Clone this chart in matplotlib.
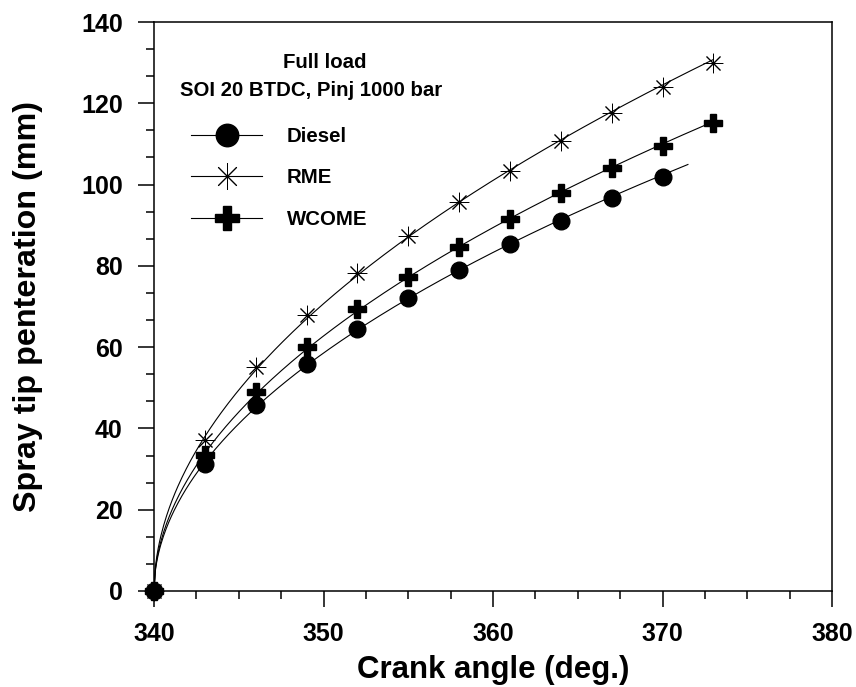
import numpy as np
import matplotlib
matplotlib.use("Agg")
import matplotlib.pyplot as plt
from matplotlib.ticker import MultipleLocator

plt.rcParams['font.family'] = ['Liberation Sans', 'DejaVu Sans']
plt.rcParams['font.weight'] = 'bold'

# crank angle (deg.) of the measured points
crank = [340, 343, 346, 349, 352, 355, 358, 361, 364, 367, 370, 373]
diesel = [0, 31.3, 45.7, 55.9, 64.4, 72.2, 79.0, 85.3, 91.1, 96.7, 101.9]
rme = [0, 37.2, 55.2, 67.8, 78.2, 87.4, 95.7, 103.4, 110.8, 117.5, 123.9, 130.0]
wcome = [0, 33.4, 48.9, 60.0, 69.3, 77.3, 84.7, 91.5, 97.9, 104.1, 109.6, 115.1]
fit_end = {"Diesel": 371.5, "RME": 373, "WCOME": 373}

series = [
    ("Diesel", diesel, dict(marker="o", ms=12, mfc="k", mec="k")),
    ("RME", rme, dict(marker=(8, 2, 0), ms=14, mfc="none", mec="k", mew=0.7)),
    ("WCOME", wcome, dict(marker="P", ms=13, mfc="k", mec="k")),
]

fig = plt.figure(figsize=(8.56, 6.87), dpi=100)
ax = fig.add_axes([154/856, 1-591/687, (832-154)/856, (591-22)/687])

x0 = crank[0]
for name, vals, mk in series:
    x = np.array(crank[:len(vals)], float)
    y = np.array(vals, float)
    # power-law regression y = a*(x-x0)^b, like the original fit lines
    t = x[1:] - x0
    b, loga = np.polyfit(np.log(t), np.log(y[1:]), 1)
    tt = np.linspace(0, fit_end[name] - x0, 400)
    ax.plot(tt + x0, np.exp(loga) * tt**b, color="k", lw=0.8, zorder=2)
    ax.plot(x, y, ls="none", zorder=3, clip_on=False, **mk)
    ax.plot([], [], color="k", lw=0.8, label=name, **mk)

ax.set_xlim(340, 380)
ax.set_ylim(0, 140)
ax.xaxis.set_major_locator(MultipleLocator(10))
ax.xaxis.set_minor_locator(MultipleLocator(2.5))
ax.yaxis.set_major_locator(MultipleLocator(20))
ax.yaxis.set_minor_locator(MultipleLocator(20/3))
ax.tick_params(which="both", direction="out", top=False, right=False, width=1.1)
ax.tick_params(which="major", length=11.5, pad=11, labelsize=18)
ax.tick_params(which="minor", length=5.8)
for lab in ax.get_xticklabels() + ax.get_yticklabels():
    lab.set_fontweight("bold")
for s in ax.spines.values():
    s.set_linewidth(1.1)

ax.set_xlabel("Crank angle (deg.)", fontsize=22.5, fontweight="bold")
ax.set_ylabel("Spray tip penteration (mm)", fontsize=23.2, fontweight="bold")
ax.xaxis.set_label_coords(0.5, (591-655)/569)
ax.yaxis.set_label_coords((43-154)/678, 0.5)

fig.text(325/856, 1-63/687, "Full load", ha="center", va="center", fontsize=14.7, fontweight="bold")
fig.text(311/856, 1-90/687, "SOI 20 BTDC, Pinj 1000 bar", ha="center", va="center",
         fontsize=14.7, fontweight="bold")

leg = ax.legend(loc="upper left", bbox_to_anchor=((191-154)/678, 1-(127-22)/569), frameon=False,
                fontsize=14.7, handlelength=3.5, handletextpad=1.2, labelspacing=1.1,
                markerscale=1.35, borderaxespad=0, borderpad=0)
for txt in leg.get_texts():
    txt.set_fontweight("bold")

fig.savefig("out.png", dpi=100)
